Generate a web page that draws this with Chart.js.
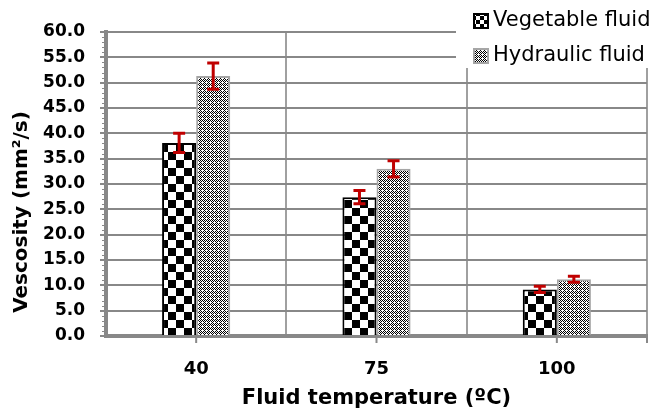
<!DOCTYPE html>
<html>
<head>
<meta charset="utf-8">
<script src="https://cdn.jsdelivr.net/npm/chart.js@4"></script>
<style>
  html, body { margin: 0; padding: 0; background: #fff; }
  #wrap { width: 661px; height: 408px; }
</style>
</head>
<body>
<div id="wrap"><canvas id="myChart" width="661" height="408"></canvas></div>
<script>
// data
const temperatures = ["40", "75", "100"];
const vegetable = [38.1, 27.4, 9.2];
const vegetableErr = [1.9, 1.3, 0.6];
const hydraulic = [51.3, 33.0, 11.2];
const hydraulicErr = [2.6, 1.6, 0.6];
const seriesNames = ["Vegetable fluid", "Hydraulic fluid"];
const yTitle = "Vescosity (mm\u00b2/s)";
const xTitle = "Fluid temperature (\u00baC)";

const FONT = "'DejaVu Sans', sans-serif";

// checkerboard for vegetable fluid
function checkerPattern(size) {
    const c = document.createElement("canvas");
    c.width = size * 2; c.height = size * 2;
    const g = c.getContext("2d");
    g.fillStyle = "#fff"; g.fillRect(0, 0, size * 2, size * 2);
    g.fillStyle = "#000";
    g.fillRect(0, 0, size, size);
    g.fillRect(size, size, size, size);
    return g.createPattern(c, "repeat");
}

// fine lattice for hydraulic fluid: 1px checker with white crosses
function latticePattern() {
    const c = document.createElement("canvas");
    c.width = 8; c.height = 8;
    const g = c.getContext("2d");
    g.fillStyle = "#fff"; g.fillRect(0, 0, 8, 8);
    g.fillStyle = "#000";
    for (let y = 0; y < 8; y++) {
        for (let x = 0; x < 8; x++) {
            if ((x + y) % 2 === 0) g.fillRect(x, y, 1, 1);
        }
    }
    g.fillStyle = "#fff";
    [[2, 2], [6, 6], [2, 6], [6, 2]].forEach(([cx, cy]) => {
        g.fillRect(cx, cy, 1, 1);
    });
    return g.createPattern(c, "repeat");
}

const errors = [vegetableErr, hydraulicErr];

const errorBars = {
    id: "errorBars",
    afterDatasetsDraw(chart) {
        const ctx = chart.ctx;
        const yScale = chart.scales.y;
        ctx.save();
        ctx.strokeStyle = "#c00000";
        ctx.lineWidth = 3;
        chart.data.datasets.forEach((ds, di) => {
            const meta = chart.getDatasetMeta(di);
            meta.data.forEach((bar, i) => {
                const v = ds.data[i];
                const e = errors[di][i];
                const x = bar.x;
                const yTop = yScale.getPixelForValue(v + e);
                const yBot = yScale.getPixelForValue(v - e);
                ctx.beginPath();
                ctx.moveTo(x, yTop); ctx.lineTo(x, yBot);
                ctx.moveTo(x - 6, yTop); ctx.lineTo(x + 6, yTop);
                ctx.moveTo(x - 6, yBot); ctx.lineTo(x + 6, yBot);
                ctx.stroke();
            });
        });
        ctx.restore();
    }
};

// minor ticks on the value axis, category ticks, y title and the legend box
const extras = {
    id: "extras",
    afterDraw(chart) {
        const ctx = chart.ctx;
        const y = chart.scales.y;
        const x = chart.scales.x;
        const area = chart.chartArea;
        ctx.save();
        ctx.strokeStyle = "#888";
        ctx.lineWidth = 1;
        for (let v = 0; v <= 60; v += 1) {
            const py = Math.round(y.getPixelForValue(v)) + 0.5;
            ctx.beginPath();
            ctx.moveTo(area.left - 4, py); ctx.lineTo(area.left, py);
            ctx.stroke();
        }
        ctx.lineWidth = 2;
        temperatures.forEach((t, i) => {
            const px = x.getPixelForValue(i);
            ctx.beginPath();
            ctx.moveTo(px, area.bottom); ctx.lineTo(px, area.bottom + 7);
            ctx.stroke();
        });
        ctx.beginPath();
        ctx.moveTo(area.right, area.bottom); ctx.lineTo(area.right, area.bottom + 7);
        ctx.stroke();

        // y axis title, sits a bit below the middle like the original
        ctx.save();
        ctx.translate(22, 212);
        ctx.rotate(-Math.PI / 2);
        ctx.fillStyle = "#000";
        ctx.font = "bold 20px " + FONT;
        ctx.textAlign = "center";
        ctx.textBaseline = "middle";
        ctx.fillText(yTitle, 0, 0);
        ctx.restore();

        // legend
        ctx.fillStyle = "#fff";
        ctx.fillRect(456, 0, 205, 68);
        const items = [
            { y: 21, fill: checkerPattern(4), border: "#000" },
            { y: 56, fill: chart.data.datasets[1].backgroundColor, border: "#a6a6a6" }
        ];
        items.forEach((it, i) => {
            ctx.fillStyle = it.fill;
            ctx.fillRect(474, it.y - 7, 14, 14);
            ctx.strokeStyle = it.border;
            ctx.lineWidth = 2;
            ctx.strokeRect(474, it.y - 7, 14, 14);
            ctx.fillStyle = "#000";
            ctx.font = "21px " + FONT;
            ctx.textBaseline = "middle";
            ctx.textAlign = "left";
            ctx.fillText(seriesNames[i], 493, it.y);
        });
        ctx.restore();
    }
};

const ctx = document.getElementById("myChart").getContext("2d");

new Chart(ctx, {
    type: "bar",
    data: {
        labels: temperatures,
        datasets: [{
            label: seriesNames[0],
            data: vegetable,
            backgroundColor: checkerPattern(8),
            borderColor: "#000",
            borderWidth: 2,
            borderSkipped: "bottom",
            barPercentage: 1,
            categoryPercentage: 0.378
        }, {
            label: seriesNames[1],
            data: hydraulic,
            backgroundColor: latticePattern(),
            borderColor: "#a6a6a6",
            borderWidth: 2,
            borderSkipped: "bottom",
            barPercentage: 1,
            categoryPercentage: 0.378
        }]
    },
    options: {
        responsive: false,
        animation: false,
        layout: { padding: { top: 32, right: 14, left: 0, bottom: 0 } },
        plugins: {
            legend: { display: false },
            tooltip: { enabled: false }
        },
        scales: {
            x: {
                offset: true,
                afterFit: (s) => { s.height = 72; },
                grid: {
                    offset: true,
                    color: "#a0a0a0",
                    lineWidth: 2,
                    drawTicks: false
                },
                border: { color: "#888", width: 4 },
                ticks: {
                    color: "#000",
                    padding: 23,
                    font: { family: FONT, size: 18, weight: "bold" }
                },
                title: {
                    display: true,
                    text: xTitle,
                    color: "#000",
                    padding: { top: 0, bottom: -3 },
                    font: { family: FONT, size: 21, weight: "bold" }
                }
            },
            y: {
                min: 0,
                max: 60,
                afterFit: (s) => { s.width = 106; },
                grid: {
                    color: "#888",
                    lineWidth: 2,
                    tickLength: 6,
                    tickColor: "#888"
                },
                border: { color: "#888", width: 4 },
                ticks: {
                    stepSize: 5,
                    color: "#000",
                    padding: 15,
                    font: { family: FONT, size: 17, weight: "bold" },
                    callback: (v) => v.toFixed(1)
                },
                title: { display: false }
            }
        }
    },
    plugins: [errorBars, extras]
});
</script>
</body>
</html>
